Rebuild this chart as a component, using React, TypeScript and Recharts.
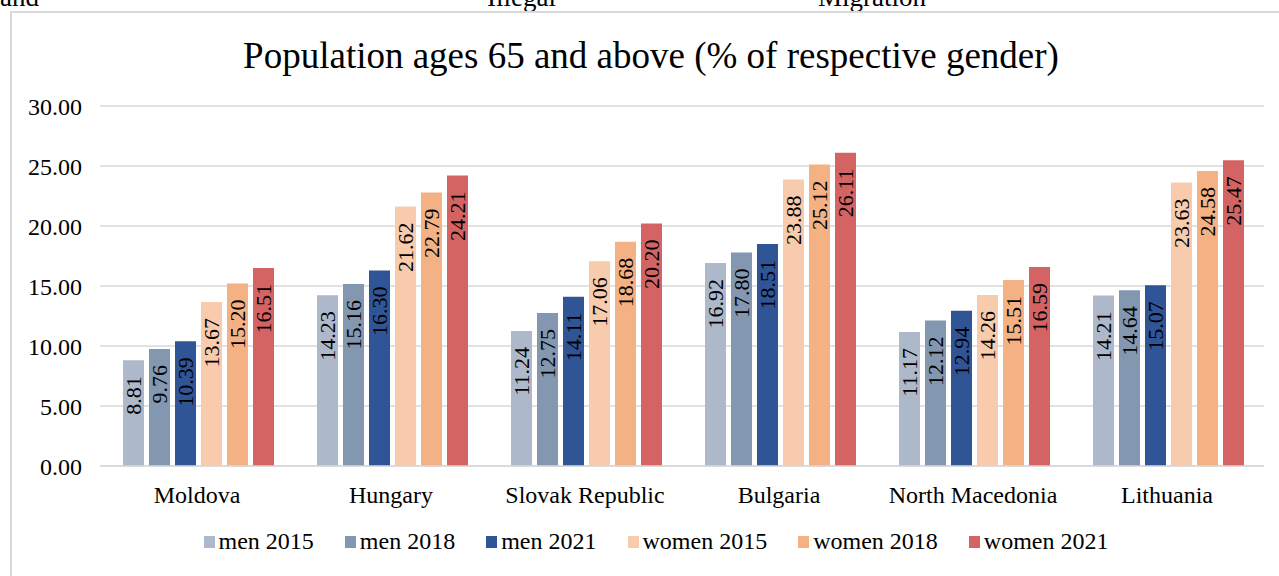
import { BarChart, Bar, XAxis, YAxis, CartesianGrid, Legend, LabelList } from 'recharts';

const countries = ['Moldova', 'Hungary', 'Slovak Republic', 'Bulgaria', 'North Macedonia', 'Lithuania'];
const men2015 = [8.81, 14.23, 11.24, 16.92, 11.17, 14.21];
const men2018 = [9.76, 15.16, 12.75, 17.8, 12.12, 14.64];
const men2021 = [10.39, 16.3, 14.11, 18.51, 12.94, 15.07];
const women2015 = [13.67, 21.62, 17.06, 23.88, 14.26, 23.63];
const women2018 = [15.2, 22.79, 18.68, 25.12, 15.51, 24.58];
const women2021 = [16.51, 24.21, 20.2, 26.11, 16.59, 25.47];
const yTicks = [0, 5, 10, 15, 20, 25, 30];

const series = [
  { key: 'men2015', name: 'men 2015', color: '#adb9ca' },
  { key: 'men2018', name: 'men 2018', color: '#8497b0' },
  { key: 'men2021', name: 'men 2021', color: '#2f5597' },
  { key: 'women2015', name: 'women 2015', color: '#f8cbad' },
  { key: 'women2018', name: 'women 2018', color: '#f4b183' },
  { key: 'women2021', name: 'women 2021', color: '#d46464' },
];

const data = countries.map((c, i) => ({
  country: c,
  men2015: men2015[i],
  men2018: men2018[i],
  men2021: men2021[i],
  women2015: women2015[i],
  women2018: women2018[i],
  women2021: women2021[i],
}));

const FONT = '"Liberation Serif", "Times New Roman", serif';

// rotated value label, reads bottom-to-top, ends just below the bar top
const VLabel = (props: any) => {
  const { x, y, width, value } = props;
  const cx = x + width / 2;
  const ty = y + 16;
  return (
    <text
      x={cx}
      y={ty}
      transform={`rotate(-90 ${cx} ${ty})`}
      textAnchor="end"
      dominantBaseline="central"
      fontSize={22}
      fontFamily={FONT}
      fill="#000"
    >
      {Number(value).toFixed(2)}
    </text>
  );
};

const LegendContent = () => (
  <div style={{ display: 'flex', justifyContent: 'center', gap: 31, fontFamily: FONT, fontSize: 24, color: '#000', marginLeft: 33 }}>
    {series.map(s => (
      <div key={s.key} style={{ display: 'flex', alignItems: 'center' }}>
        <span style={{ width: 11, height: 12, background: s.color, display: 'inline-block', marginRight: 4 }} />
        <span>{s.name}</span>
      </div>
    ))}
  </div>
);

export default function App() {
  return (
    <div style={{ position: 'fixed', left: 0, top: 0, width: 1279, height: 576, overflow: 'hidden', background: '#fff' }}>
      {/* bits of the document text above the chart */}
      <div style={{ position: 'absolute', top: -18, left: 0, width: 1279, fontFamily: FONT, fontSize: 27, color: '#000' }}>
        <span style={{ position: 'absolute', left: 0 }}>and</span>
        <span style={{ position: 'absolute', left: 487 }}>Illegal</span>
        <span style={{ position: 'absolute', left: 818 }}>Migration</span>
      </div>
      <div style={{ position: 'absolute', left: 10, top: 11, width: 1300, height: 600, border: '2px solid #d9d9d9', boxSizing: 'border-box' }} />
      <div style={{ position: 'absolute', top: 33, left: 0, width: 1302, textAlign: 'center', fontFamily: FONT, fontSize: 37, color: '#000', lineHeight: '46px' }}>
        Population ages 65 and above (% of respective gender)
      </div>
      <div style={{ position: 'absolute', left: 0, top: 0 }}>
        <BarChart
          width={1279}
          height={576}
          data={data}
          margin={{ top: 106, right: 15, bottom: 80, left: 0 }}
          barCategoryGap={23}
          barGap={5}
        >
          <CartesianGrid vertical={false} stroke="#d9d9d9" strokeWidth={1.5} />
          <XAxis
            dataKey="country"
            axisLine={{ stroke: '#d9d9d9', strokeWidth: 1.5 }}
            tickLine={false}
            tick={{ fontSize: 24, fontFamily: FONT, fill: '#000' }}
            tickMargin={14}
            height={30}
          />
          <YAxis
            domain={[0, 30]}
            ticks={yTicks}
            axisLine={false}
            tickLine={false}
            width={100}
            tickMargin={12}
            tickFormatter={(v: number) => v.toFixed(2)}
            tick={{ fontSize: 24, fontFamily: FONT, fill: '#000' }}
          />
          <Legend layout="horizontal" verticalAlign="middle" align="center" wrapperStyle={{ top: 528, left: 0, width: 1279 }} content={<LegendContent />} />
          {series.map(s => (
            <Bar key={s.key} dataKey={s.key} name={s.name} fill={s.color} isAnimationActive={false}>
              <LabelList dataKey={s.key} content={<VLabel />} />
            </Bar>
          ))}
        </BarChart>
      </div>
    </div>
  );
}
